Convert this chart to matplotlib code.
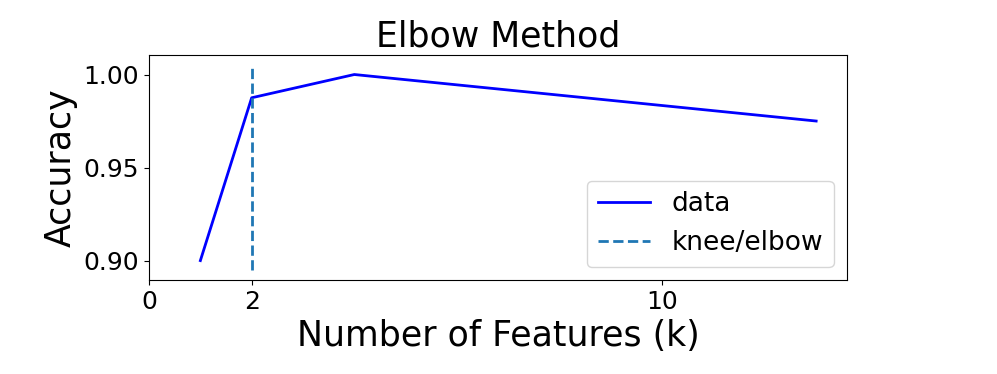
import matplotlib
matplotlib.use("Agg")
import matplotlib.pyplot as plt
from matplotlib.ticker import MultipleLocator

# number of features vs accuracy
k_values = [1, 2, 4, 13]
accuracy = [0.9, 0.9875, 1.0, 0.975]
knee = 2
x_ticks = [0, 2, 10]

fig = plt.figure(figsize=(9.97, 3.74), dpi=100)
plt.plot(k_values, accuracy, "b", linewidth=2, label="data")
plt.vlines(knee, plt.ylim()[0], plt.ylim()[1], linestyles="--", linewidth=2, label="knee/elbow")
plt.legend(loc="lower right", fontsize=19)
plt.title("Elbow Method", fontsize=25)
plt.xlabel("Number of Features (k)", fontsize=25)
plt.ylabel("Accuracy", fontsize=25)
plt.xticks(x_ticks, fontsize=18)
plt.yticks(fontsize=18)
plt.gca().yaxis.set_major_locator(MultipleLocator(0.05))
plt.subplots_adjust(left=0.1495, right=0.8495, top=0.853, bottom=0.251)
plt.savefig("out.png", dpi=100)
